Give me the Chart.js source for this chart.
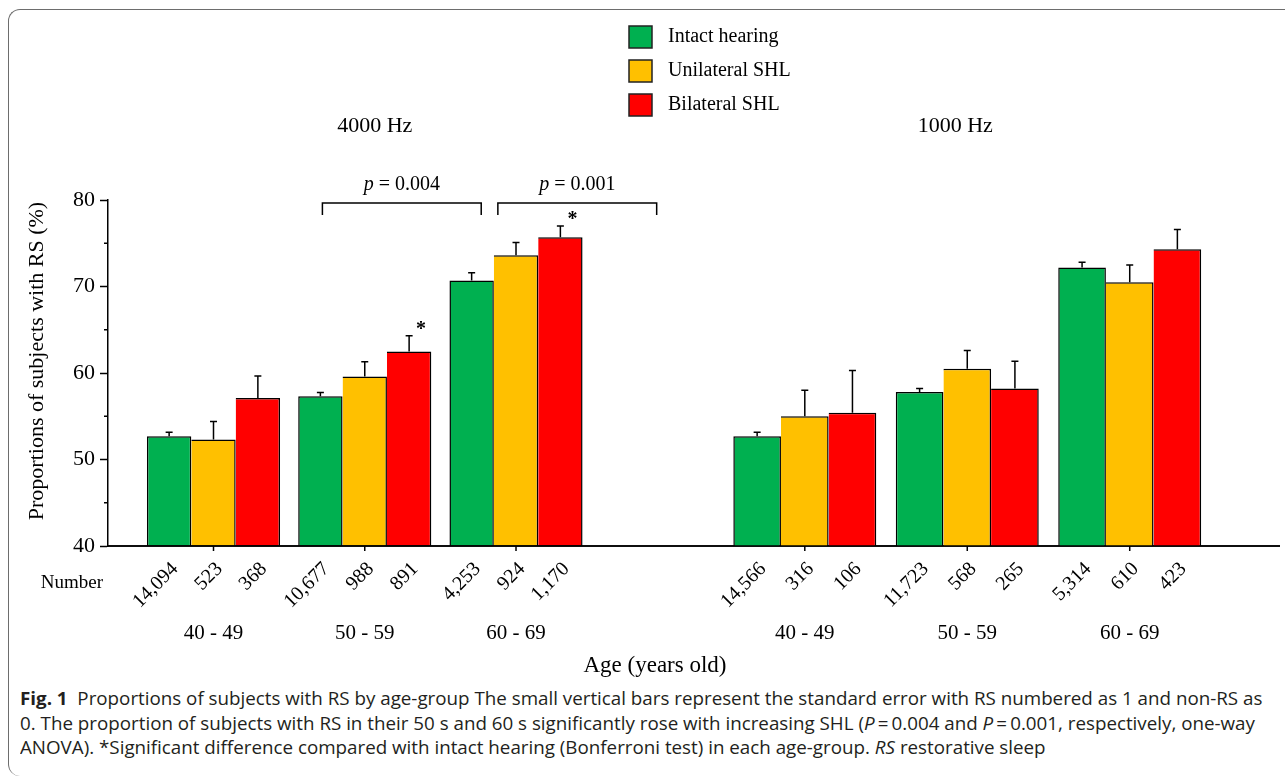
<!DOCTYPE html>
<html>
<head>
<meta charset="utf-8">
<script src="https://cdn.jsdelivr.net/npm/chart.js@4.4.1/dist/chart.umd.min.js"></script>
<style>
    body { margin: 0; background: #fff; width: 1285px; height: 780px; overflow: hidden; position: relative; }
    #frame { position: absolute; left: 8px; top: 9px; width: 1300px; height: 766px; border-left: 1.5px solid #6d6d6d; border-top: 1.5px solid #6d6d6d; border-radius: 12px 0 0 12px; }
    .panel { position: absolute; left: 0; top: 0; width: 1285px; height: 680px; }
    #caption { position: absolute; left: 20px; top: 686px; font-family: 'Open Sans', sans-serif; font-size: 18px; color: #231f20; line-height: 24.5px; white-space: nowrap; transform-origin: 0 0; }
    #caption b { font-weight: 700; }
</style>
</head>
<body>
<div id="frame"></div>
<div class="panel"><canvas id="chart4000" width="1285" height="680"></canvas></div>
<div class="panel"><canvas id="chart1000" width="1285" height="680"></canvas></div>
<div id="caption">
    <div class="l1"><b>Fig. 1</b>&nbsp; Proportions of subjects with RS by age-group The small vertical bars represent the standard error with RS numbered as 1 and non-RS as</div>
    <div>0. The proportion of subjects with RS in their 50 s and 60 s significantly rose with increasing SHL (<i>P</i>&thinsp;=&thinsp;0.004 and <i>P</i>&thinsp;=&thinsp;0.001, respectively, one-way</div>
    <div>ANOVA). *Significant difference compared with intact hearing (Bonferroni test) in each age-group. <i>RS</i> restorative sleep</div>
</div>
<script>
const ages = ['40 - 49', '50 - 59', '60 - 69'];
const freqs = ['4000 Hz', '1000 Hz'];
const hearing = ['Intact hearing', 'Unilateral SHL', 'Bilateral SHL'];
const hearingColors = ['#00b050', '#ffc000', '#ff0000'];

// 4000 Hz: proportion with RS (%), standard error, number of subjects
const hz4000Intact = [52.7, 57.3, 70.7];
const hz4000Unilateral = [52.3, 59.6, 73.6];
const hz4000Bilateral = [57.1, 62.5, 75.7];
const hz4000IntactSE = [0.45, 0.45, 0.9];
const hz4000UnilateralSE = [2.1, 1.7, 1.5];
const hz4000BilateralSE = [2.55, 1.8, 1.3];
const hz4000IntactN = [14094, 10677, 4253];
const hz4000UnilateralN = [523, 988, 924];
const hz4000BilateralN = [368, 891, 1170];
const hz4000BilateralStar = [false, true, true];

// 1000 Hz
const hz1000Intact = [52.7, 57.8, 72.2];
const hz1000Unilateral = [55.0, 60.5, 70.5];
const hz1000Bilateral = [55.4, 58.2, 74.3];
const hz1000IntactSE = [0.45, 0.4, 0.6];
const hz1000UnilateralSE = [3.0, 2.1, 2.0];
const hz1000BilateralSE = [4.9, 3.15, 2.3];
const hz1000IntactN = [14566, 11723, 5314];
const hz1000UnilateralN = [316, 568, 610];
const hz1000BilateralN = [106, 265, 423];

const yTicks = [40, 50, 60, 70, 80];
const yMinorTicks = [45, 55, 65, 75];

// significance brackets over the 4000 Hz panel (in group units)
const pTests = [
    { text: '0.004', from: 0.72, to: 1.77 },
    { text: '0.001', from: 1.88, to: 2.93 }
];

const serif = "'Liberation Serif', 'Times New Roman', serif";


function makeSet(idx, values, se, counts, stars) {
    return {
        label: hearing[idx],
        backgroundColor: hearingColors[idx],
        borderColor: '#000',
        borderWidth: 1.5,
        borderSkipped: idx === 0 ? 'bottom' : 'left',
        categoryPercentage: 0.88,
        barPercentage: 1,
        data: values.map((v, i) => ({ x: i, y: v })),
        se: se,
        counts: counts,
        stars: stars || values.map(() => false)
    };
}

function drawItalicP(ctx, rest, cx, cy, size) {
    ctx.font = `italic ${size}px ${serif}`;
    const wp = ctx.measureText('p').width;
    ctx.font = `${size}px ${serif}`;
    const wr = ctx.measureText(rest).width;
    const x0 = cx - (wp + wr) / 2;
    ctx.textAlign = 'left';
    ctx.font = `italic ${size}px ${serif}`;
    ctx.fillText('p', x0, cy);
    ctx.font = `${size}px ${serif}`;
    ctx.fillText(rest, x0 + wp, cy);
}

// marks that belong to one frequency panel
const panelMarks = {
    id: 'panelMarks',
    afterDatasetsDraw(chart, args, opts) {
        const { ctx, chartArea: area, scales } = chart;
        const x = scales.x, y = scales.y;
        ctx.save();
        ctx.strokeStyle = '#000';
        ctx.fillStyle = '#000';
        ctx.lineWidth = 1.5;

        chart.data.datasets.forEach((ds, di) => {
            chart.getDatasetMeta(di).data.forEach((bar, i) => {
                const top = y.getPixelForValue(ds.data[i].y + ds.se[i]);
                ctx.beginPath();
                ctx.moveTo(bar.x, bar.y);
                ctx.lineTo(bar.x, top);
                ctx.moveTo(bar.x - 3.5, top);
                ctx.lineTo(bar.x + 3.5, top);
                ctx.stroke();

                if (ds.stars[i]) {
                    ctx.font = `bold 20px ${serif}`;
                    ctx.textAlign = 'center';
                    ctx.textBaseline = 'middle';
                    ctx.fillText('*', bar.x + 12, top - 6);
                }

                ctx.save();
                ctx.translate(bar.x + 6, area.bottom + 20);
                ctx.rotate(-Math.PI / 4);
                ctx.font = `20px ${serif}`;
                ctx.textAlign = 'right';
                ctx.textBaseline = 'middle';
                ctx.fillText(ds.counts[i].toLocaleString('en-US'), 0, 0);
                ctx.restore();
            });
        });

        // x axis line with a tick under each age group
        ctx.beginPath();
        ctx.moveTo(area.left, area.bottom);
        ctx.lineTo(area.right, area.bottom);
        ages.forEach((a, i) => {
            const px = x.getPixelForValue(i);
            ctx.moveTo(px, area.bottom);
            ctx.lineTo(px, area.bottom + 5);
        });
        ctx.stroke();

        ctx.textAlign = 'center';
        ctx.textBaseline = 'middle';
        ctx.font = `21px ${serif}`;
        ages.forEach((a, i) => ctx.fillText(a, x.getPixelForValue(i), 633));

        ctx.font = `22px ${serif}`;
        ctx.fillText(opts.title, x.getPixelForValue(1) + opts.titleShift, 126);
        ctx.restore();
    }
};

// marks drawn once for the whole figure
const figureMarks = {
    id: 'figureMarks',
    afterDatasetsDraw(chart) {
        const { ctx, chartArea: area, scales } = chart;
        ctx.save();
        ctx.strokeStyle = '#000';
        ctx.fillStyle = '#000';
        ctx.lineWidth = 1.5;

        ctx.beginPath();
        yMinorTicks.forEach(v => {
            const py = scales.y.getPixelForValue(v);
            ctx.moveTo(area.left - 4, py);
            ctx.lineTo(area.left, py);
        });
        ctx.stroke();

        ctx.textAlign = 'center';
        ctx.textBaseline = 'middle';
        ctx.font = `19px ${serif}`;
        ctx.fillText('Number', 72, 583);

        ctx.font = `23px ${serif}`;
        ctx.fillText('Age (years old)', 655, 666);

        ctx.save();
        ctx.translate(37, 361);
        ctx.rotate(-Math.PI / 2);
        ctx.font = `22px ${serif}`;
        ctx.fillText('Proportions of subjects with RS (%)', 0, 0);
        ctx.restore();

        pTests.forEach(t => {
            const x1 = scales.x.getPixelForValue(t.from);
            const x2 = scales.x.getPixelForValue(t.to);
            ctx.beginPath();
            ctx.moveTo(x1, 215);
            ctx.lineTo(x1, 203);
            ctx.lineTo(x2, 203);
            ctx.lineTo(x2, 215);
            ctx.stroke();
            ctx.textBaseline = 'middle';
            drawItalicP(ctx, ' = ' + t.text, (x1 + x2) / 2, 185, 20);
        });

        hearing.forEach((h, i) => {
            const top = 26 + 34 * i;
            ctx.fillStyle = hearingColors[i];
            ctx.fillRect(629, top, 23, 22);
            ctx.strokeStyle = '#222';
            ctx.strokeRect(629, top, 23, 22);
            ctx.fillStyle = '#000';
            ctx.textAlign = 'left';
            ctx.textBaseline = 'middle';
            ctx.font = `20px ${serif}`;
            ctx.fillText(h, 668, top + 11);
        });

        ctx.restore();
    }
};

// both panels share the same plot area; only the 4000 Hz one shows the y axis
function panelChart(canvasId, sets, xMin, xMax, withAxis, title, titleShift) {
    const plugins = withAxis ? [panelMarks, figureMarks] : [panelMarks];
    return new Chart(document.getElementById(canvasId).getContext('2d'), {
        type: 'bar',
        data: { datasets: sets },
        options: {
            responsive: false,
            animation: false,
            layout: { padding: { top: 200, right: 5, bottom: 134, left: 0 } },
            plugins: {
                legend: { display: false },
                tooltip: { enabled: false },
                panelMarks: { title: title, titleShift: titleShift }
            },
            scales: {
                x: {
                    type: 'linear', display: false, offset: false,
                    min: xMin, max: xMax,
                    afterBuildTicks: scale => { scale.ticks = ages.map((a, i) => ({ value: i })); }
                },
                y: {
                    min: 40,
                    max: 80,
                    afterBuildTicks: scale => { scale.ticks = yTicks.map(v => ({ value: v })); },
                    afterFit: scale => { scale.width = 108; },
                    ticks: {
                        display: withAxis,
                        color: '#000',
                        padding: 5,
                        font: { family: 'Liberation Serif', size: 22 }
                    },
                    grid: {
                        display: withAxis,
                        drawOnChartArea: false,
                        drawTicks: true,
                        tickLength: 8,
                        tickWidth: 1.5,
                        tickColor: '#000'
                    },
                    border: { display: withAxis, color: '#000', width: 1.5 }
                }
            }
        },
        plugins: plugins
    });
}

panelChart('chart4000', [
    makeSet(0, hz4000Intact, hz4000IntactSE, hz4000IntactN),
    makeSet(1, hz4000Unilateral, hz4000UnilateralSE, hz4000UnilateralN),
    makeSet(2, hz4000Bilateral, hz4000BilateralSE, hz4000BilateralN, hz4000BilateralStar)
], -0.6975, 7.051, true, freqs[0], 10);

panelChart('chart1000', [
    makeSet(0, hz1000Intact, hz1000IntactSE, hz1000IntactN),
    makeSet(1, hz1000Unilateral, hz1000UnilateralSE, hz1000UnilateralN),
    makeSet(2, hz1000Bilateral, hz1000BilateralSE, hz1000BilateralN)
], -4.289, 2.925, false, freqs[1], -12);

// squeeze the caption to the printed line width
const cap = document.getElementById('caption');
const lineW = cap.querySelector('.l1').scrollWidth;
cap.style.transform = `scaleX(${1242 / lineW})`;
</script>
</body>
</html>
